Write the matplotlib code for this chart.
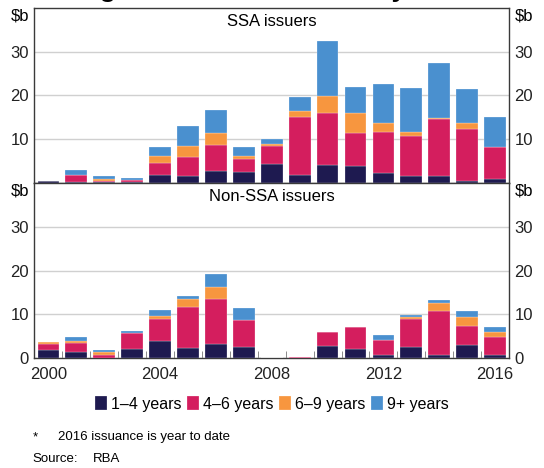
import matplotlib
matplotlib.use('Agg')
import matplotlib.pyplot as plt
import numpy as np

plt.rcParams['font.family'] = ['Liberation Sans', 'DejaVu Sans']

years = list(range(2000, 2017))
tenors = ['1–4 years', '4–6 years', '6–9 years', '9+ years']
colours = ['#1e1a50', '#d41e5e', '#f7963f', '#4a90cf']

# SSA issuers, $b
ssa_1_4 = [0.3, 0.15, 0.2, 0.2, 1.75, 1.5, 2.7, 2.45, 4.2, 1.75, 4.0, 3.8, 2.2, 1.5, 1.45, 0.45, 0.9]
ssa_4_6 = [0.1, 1.55, 0.3, 0.4, 2.85, 4.4, 5.9, 2.9, 4.3, 13.25, 11.9, 7.5, 9.3, 9.3, 13.2, 11.85, 7.2]
ssa_6_9 = [0.0, 0.0, 0.35, 0.05, 1.5, 2.5, 2.7, 0.75, 0.4, 1.3, 4.0, 4.6, 2.2, 0.7, 0.25, 1.3, 0.0]
ssa_9p = [0.0, 1.2, 0.75, 0.35, 2.1, 4.65, 5.3, 2.1, 1.1, 3.3, 12.5, 6.0, 9.0, 10.1, 12.4, 7.9, 6.9]

# Non-SSA issuers, $b
non_1_4 = [1.9, 1.5, 0.1, 2.05, 3.95, 2.35, 3.25, 2.65, 0.0, 0.0, 2.9, 2.1, 0.85, 2.6, 0.85, 3.05, 0.75]
non_4_6 = [1.4, 2.0, 0.75, 3.65, 4.9, 9.4, 10.25, 6.0, 0.0, 0.3, 3.1, 5.0, 3.25, 6.4, 9.9, 4.3, 4.15]
non_6_9 = [0.4, 0.35, 0.65, 0.1, 0.75, 1.75, 2.7, 0.15, 0.0, 0.0, 0.0, 0.0, 0.05, 0.4, 1.85, 2.05, 1.0]
non_9p = [0.0, 1.0, 0.3, 0.5, 1.45, 0.7, 2.9, 2.55, 0.0, 0.0, 0.0, 0.0, 1.15, 0.4, 0.65, 1.35, 1.3]

fig = plt.figure(figsize=(5.44, 4.68), dpi=100)
ax1 = fig.add_axes([0.0634, 0.6096, 0.8723, 0.3735])
ax2 = fig.add_axes([0.0634, 0.2344, 0.8723, 0.3752])

x = np.arange(len(years))
spine_col = '#3a3a3a'


def stack(ax, series):
    bottom = np.zeros(len(years))
    bars = []
    for vals, col, lab in zip(series, colours, tenors):
        b = ax.bar(x, vals, width=0.78, bottom=bottom, color=col, edgecolor='#ffffff99',
                   linewidth=0.3, label=lab, zorder=3)
        bars.append(b)
        bottom = bottom + np.array(vals)
    return bars


for ax, series, title in [(ax1, [ssa_1_4, ssa_4_6, ssa_6_9, ssa_9p], 'SSA issuers'),
                          (ax2, [non_1_4, non_4_6, non_6_9, non_9p], 'Non-SSA issuers')]:
    handles = stack(ax, series)
    ax.set_xlim(-0.5, len(years) - 0.5)
    ax.set_ylim(0, 40)
    ax.grid(axis='y', color='#d0d0d0', linewidth=1, zorder=0)
    for s in ax.spines.values():
        s.set_color(spine_col)
        s.set_linewidth(1)
    ax.tick_params(axis='y', length=0, labelsize=12, labelright=True, right=False,
                   pad=4, colors='#222222')
    ax.text(0.5, 0.965, title, transform=ax.transAxes, ha='center', va='top', fontsize=12)
    ax.text(-0.012, 0.955, '$b', transform=ax.transAxes, ha='right', va='center', fontsize=12)
    ax.text(1.012, 0.955, '$b', transform=ax.transAxes, ha='left', va='center', fontsize=12)

ax1.set_yticks([10, 20, 30])
ax2.set_yticks([0, 10, 20, 30])
ax1.set_xticks([])
ax2.set_xticks(x[::4])
ax2.set_xticklabels([str(y) for y in years[::4]])
ax2.set_xticks(x[:-1] + 0.5, minor=True)
ax2.tick_params(axis='x', which='major', length=0, labelsize=12, pad=6, colors='#222222')
ax2.tick_params(axis='x', which='minor', direction='in', length=5, color='#777777')

fig.legend(handles, tenors, loc='center', bbox_to_anchor=(0.5, 1 - 404 / 468), ncol=4,
           frameon=False, fontsize=11.5, handlelength=0.75, handleheight=0.9,
           handletextpad=0.25, columnspacing=0.35)

# title sits above the top edge, only its lower part shows (as in the source image)
fig.text(0.5, 1 + 2.5 / 468, 'Kangaroo Bond Issuance by Tenor*', ha='center', va='baseline',
         fontsize=19, fontweight='bold')

fig.text(33 / 544, 1 - 437 / 468, '*', fontsize=9.5, va='center')
fig.text(58 / 544, 1 - 437 / 468, '2016 issuance is year to date', fontsize=9.5, va='center')
fig.text(32 / 544, 1 - 459 / 468, 'Source:', fontsize=9.5, va='center')
fig.text(93 / 544, 1 - 459 / 468, 'RBA', fontsize=9.5, va='center')

fig.savefig('out.png', dpi=100)
